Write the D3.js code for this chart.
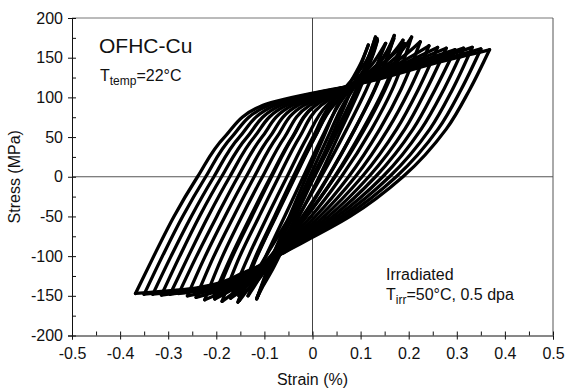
<!DOCTYPE html>
<html>
<head>
<meta charset="utf-8">
<script src="https://cdn.jsdelivr.net/npm/d3@7"></script>
<style>
  html, body { margin: 0; padding: 0; background: #fff; }
  svg { display: block; }
  text { font-family: "Liberation Sans", Arial, sans-serif; fill: #111; }
</style>
</head>
<body>
<svg id="chart" width="568" height="390"></svg>
<script>
// Cyclic stress-strain loops, irradiated OFHC copper tested at 22 °C.
// The first fifteen loops run from the widest (last cycles) to the narrowest;
// the last four are early cycles lying in between them.

// Tension tips of each loop: strain (%) and stress (MPa)
const peakStrain  = [0.368, 0.350, 0.332, 0.314, 0.296, 0.278, 0.260, 0.242, 0.224, 0.206, 0.188, 0.170, 0.152, 0.134, 0.116,
                     0.135, 0.131, 0.169, 0.191];
const peakStress  = [160, 161, 163, 162, 160, 162, 163, 165, 170, 176, 172, 178, 168, 174, 166,
                     172, 176, 174, 168];
// Compression tips of each loop
const valleyStrain = [-0.368, -0.350, -0.332, -0.314, -0.296, -0.278, -0.260, -0.242, -0.224, -0.206, -0.188, -0.170, -0.152, -0.134, -0.116,
                      -0.115, -0.155, -0.153, -0.203];
const valleyStress = [-147, -148, -148, -149, -148, -147, -150, -152, -155, -151, -157, -153, -156, -150, -154,
                      -152, -158, -150, -154];

// Loading branch (compression tip -> tension tip): strain at these stress levels
const loadLevels = [-100, -50, 0, 50, 90, 120, 145];
const loadingStrain = [
  [-0.330, -0.288, -0.239, -0.183, -0.103, 0.118, 0.267],
  [-0.312, -0.270, -0.222, -0.168, -0.091, 0.116, 0.255],
  [-0.294, -0.252, -0.205, -0.152, -0.078, 0.113, 0.244],
  [-0.276, -0.235, -0.189, -0.136, -0.066, 0.111, 0.232],
  [-0.258, -0.217, -0.172, -0.121, -0.054, 0.109, 0.221],
  [-0.241, -0.199, -0.155, -0.105, -0.042, 0.107, 0.209],
  [-0.223, -0.182, -0.138, -0.089, -0.030, 0.105, 0.198],
  [-0.205, -0.164, -0.121, -0.074, -0.018, 0.103, 0.186],
  [-0.187, -0.147, -0.104, -0.058, -0.006, 0.100, 0.174],
  [-0.169, -0.129, -0.087, -0.042,  0.006, 0.098, 0.163],
  [-0.151, -0.111, -0.070, -0.027,  0.018, 0.096, 0.151],
  [-0.133, -0.094, -0.053, -0.011,  0.030, 0.094, 0.140],
  [-0.115, -0.076, -0.036,  0.005,  0.042, 0.092, 0.128],
  [-0.097, -0.058, -0.019,  0.020,  0.054, 0.090, 0.117],
  [-0.083, -0.048, -0.013,  0.023,  0.052, 0.080, 0.102],
  [-0.080, -0.043, -0.006,  0.032,  0.063, 0.095, 0.120],
  [-0.118, -0.079, -0.040,  0.001,  0.036, 0.079, 0.111],
  [-0.116, -0.077, -0.037,  0.005,  0.044, 0.101, 0.142],
  [-0.166, -0.126, -0.085, -0.041,  0.006, 0.091, 0.151]
];

// Unloading branch (tension tip -> compression tip): strain at these stress levels
const unloadLevels = [110, 60, 0, -50, -90, -120, -140];
const unloadingStrain = [
  [0.327, 0.278, 0.188, 0.078, -0.043, -0.140, -0.240],
  [0.309, 0.261, 0.174, 0.069, -0.045, -0.137, -0.231],
  [0.291, 0.244, 0.160, 0.060, -0.048, -0.134, -0.222],
  [0.273, 0.226, 0.146, 0.051, -0.050, -0.132, -0.213],
  [0.255, 0.209, 0.131, 0.042, -0.053, -0.129, -0.204],
  [0.237, 0.192, 0.117, 0.033, -0.055, -0.126, -0.195],
  [0.220, 0.175, 0.103, 0.024, -0.058, -0.123, -0.186],
  [0.202, 0.157, 0.089, 0.015, -0.060, -0.120, -0.177],
  [0.184, 0.140, 0.075, 0.006, -0.063, -0.117, -0.168],
  [0.166, 0.123, 0.060, -0.003, -0.065, -0.114, -0.159],
  [0.148, 0.105, 0.046, -0.012, -0.068, -0.111, -0.150],
  [0.130, 0.088, 0.032, -0.021, -0.070, -0.109, -0.141],
  [0.112, 0.071, 0.018, -0.030, -0.073, -0.106, -0.132],
  [0.094, 0.054, 0.004, -0.040, -0.076, -0.103, -0.123],
  [0.081, 0.046, 0.003, -0.035, -0.066, -0.089, -0.106],
  [0.098, 0.060, 0.014, -0.028, -0.061, -0.086, -0.105],
  [0.091, 0.051, -0.001, -0.047, -0.087, -0.117, -0.140],
  [0.129, 0.088, 0.033, -0.018, -0.064, -0.100, -0.129],
  [0.151, 0.108, 0.047, -0.014, -0.073, -0.119, -0.161]
];

// Axis ticks
const xTicks = [-0.5, -0.4, -0.3, -0.2, -0.1, 0, 0.1, 0.2, 0.3, 0.4, 0.5];
const xMinorTicks = [-0.45, -0.35, -0.25, -0.15, -0.05, 0.05, 0.15, 0.25, 0.35, 0.45];
const yTicks = [-200, -150, -100, -50, 0, 50, 100, 150, 200];
const yMinorTicks = [-175, -125, -75, -25, 25, 75, 125, 175];

const svg = d3.select("#chart");
const plotLeft = 72, plotRight = 553, plotTop = 18, plotBottom = 335.5;

const x = d3.scaleLinear().domain([-0.5, 0.5]).range([plotLeft, plotRight]);
const y = d3.scaleLinear().domain([-200, 200]).range([plotBottom, plotTop]);

// Frame
svg.append("line").attr("x1", plotLeft).attr("x2", plotRight).attr("y1", plotTop).attr("y2", plotTop)
  .attr("stroke", "#777").attr("stroke-width", 1);
svg.append("line").attr("x1", plotRight).attr("x2", plotRight).attr("y1", plotTop).attr("y2", plotBottom)
  .attr("stroke", "#555").attr("stroke-width", 1);

// Zero reference lines
svg.append("line").attr("x1", plotLeft).attr("x2", plotRight).attr("y1", y(0)).attr("y2", y(0))
  .attr("stroke", "#555").attr("stroke-width", 1);
svg.append("line").attr("x1", x(0)).attr("x2", x(0)).attr("y1", plotTop).attr("y2", plotBottom)
  .attr("stroke", "#444").attr("stroke-width", 1);

// Hysteresis loops
const branch = d3.line()
  .x(d => x(d[0]))
  .y(d => y(d[1]))
  .curve(d3.curveMonotoneY);

const loops = svg.append("g")
  .attr("fill", "none")
  .attr("stroke", "#000")
  .attr("stroke-width", 3.3)
  .attr("stroke-linejoin", "round")
  .attr("stroke-linecap", "round");

peakStrain.forEach((_, i) => {
  const up = [[valleyStrain[i], valleyStress[i]]]
    .concat(loadLevels.map((s, k) => [loadingStrain[i][k], s]))
    .concat([[peakStrain[i], peakStress[i]]]);
  const down = [[valleyStrain[i], valleyStress[i]]]
    .concat(unloadLevels.map((s, k) => [unloadingStrain[i][k], s]).reverse())
    .concat([[peakStrain[i], peakStress[i]]]);
  loops.append("path").attr("d", branch(up));
  loops.append("path").attr("d", branch(down));
});

// Axes
const xAxis = svg.append("g").attr("transform", `translate(0,${plotBottom})`)
  .call(d3.axisBottom(x).tickValues(xTicks).tickSize(4).tickPadding(8)
    .tickFormat(d => d === 0 ? "0" : d3.format(".1f")(d).replace("\u2212", "-")));
const xIn = svg.append("g").attr("transform", `translate(0,${plotBottom})`)
  .call(d3.axisTop(x).tickValues(xTicks.concat(xMinorTicks)).tickSize(4).tickFormat(""));
const yAxis = svg.append("g").attr("transform", `translate(${plotLeft},0)`)
  .call(d3.axisLeft(y).tickValues(yTicks).tickSize(4).tickPadding(5)
    .tickFormat(d => String(d)));
const yIn = svg.append("g").attr("transform", `translate(${plotLeft},0)`)
  .call(d3.axisRight(y).tickValues(yTicks.concat(yMinorTicks)).tickSize(4).tickFormat(""));

[xAxis, xIn, yAxis, yIn].forEach(g => {
  g.select(".domain").attr("stroke", "#111").attr("stroke-width", 1);
  g.selectAll(".tick line").attr("stroke", "#111").attr("stroke-width", 1);
  g.selectAll(".tick text").attr("font-size", 16).attr("fill", "#111")
    .attr("font-family", "Liberation Sans, Arial, sans-serif");
});
xIn.select(".domain").remove();
yIn.select(".domain").remove();

// Axis titles
svg.append("text").attr("x", (plotLeft + plotRight) / 2).attr("y", 385)
  .attr("text-anchor", "middle").attr("font-size", 16).text("Strain (%)");
svg.append("text").attr("transform", `translate(20,${(plotTop + plotBottom) / 2}) rotate(-90)`)
  .attr("text-anchor", "middle").attr("font-size", 16).text("Stress (MPa)");

// Annotations
svg.append("text").attr("x", 99).attr("y", 53).attr("font-size", 21).text("OFHC-Cu");

const tt = svg.append("text").attr("x", 100).attr("y", 81).attr("font-size", 16);
tt.append("tspan").text("T");
tt.append("tspan").attr("font-size", 12).attr("dy", 4).text("temp");
tt.append("tspan").attr("dy", -4).text("=22°C");

svg.append("text").attr("x", 386).attr("y", 280).attr("font-size", 16).text("Irradiated");
const ti = svg.append("text").attr("x", 386).attr("y", 300).attr("font-size", 16);
ti.append("tspan").text("T");
ti.append("tspan").attr("font-size", 12).attr("dy", 4).text("irr");
ti.append("tspan").attr("dy", -4).text("=50°C, 0.5 dpa");
</script>
</body>
</html>
